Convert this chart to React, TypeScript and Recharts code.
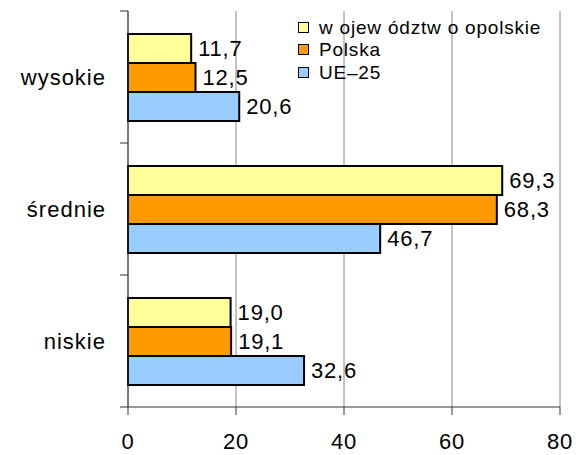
import React from 'react';
import { BarChart, Bar, XAxis, YAxis, CartesianGrid, LabelList } from 'recharts';

const categories = ['wysokie', 'średnie', 'niskie'];
const opolskie = [11.7, 69.3, 19.0];
const polska = [12.5, 68.3, 19.1];
const ue25 = [20.6, 46.7, 32.6];
const xTicks = [0, 20, 40, 60, 80];

const series = [
  { key: 'opolskie', name: 'w ojew ództw o opolskie', color: '#FFFF99' },
  { key: 'polska', name: 'Polska', color: '#FF9900' },
  { key: 'ue', name: 'UE–25', color: '#99CCFF' },
];

const data = categories.map((c, i) => ({
  name: c,
  opolskie: opolskie[i],
  polska: polska[i],
  ue: ue25[i],
}));

const FONT = '"Liberation Sans", Arial, sans-serif';

const fmt = (v: any) => Number(v).toFixed(1).replace('.', ',');

function CategoryTick(props: any) {
  const { x, y, payload, index, visibleTicksCount } = props;
  const half = payload && payload.offset ? payload.offset : 66;
  const last = index === (visibleTicksCount ?? categories.length) - 1;
  return (
    <g>
      <line x1={x - 8} x2={x} y1={y - half} y2={y - half} stroke="#333" />
      {last && <line x1={x - 8} x2={x} y1={y + half} y2={y + half} stroke="#333" />}
      <text
        x={x - 22}
        y={y}
        dy="0.36em"
        textAnchor="end"
        fontSize={22}
        letterSpacing={1}
        fontFamily={FONT}
        fill="#000"
      >
        {payload.value}
      </text>
    </g>
  );
}

// legenda rysowana jako zwykly div nad wykresem
function LegendBox() {
  return (
    <div
      style={{
        position: 'absolute',
        top: 16,
        left: 298,
        fontFamily: FONT,
        fontSize: 19,
        letterSpacing: 0.8,
        color: '#000',
        lineHeight: 1,
      }}
    >
      {series.map((s) => (
        <div key={s.key} style={{ display: 'flex', alignItems: 'center', height: 22.5 }}>
          <span
            style={{
              display: 'inline-block',
              width: 9,
              height: 9,
              background: s.color,
              border: '1.5px solid #000',
              marginRight: 10,
            }}
          />
          <span>{s.name}</span>
        </div>
      ))}
    </div>
  );
}

export default function App() {
  return (
    <div style={{ position: 'absolute', left: 0, top: 0, width: 583, height: 455, background: '#fff' }}>
      <BarChart
        width={583}
        height={455}
        data={data}
        layout="vertical"
        margin={{ top: 11, right: 23, bottom: 0, left: 0 }}
        barSize={29}
        barGap={0}
      >
        <CartesianGrid horizontal={false} vertical stroke="#888" />
        <XAxis
          type="number"
          domain={[0, 80]}
          ticks={xTicks}
          interval={0}
          height={48}
          tickSize={8}
          tickMargin={18}
          axisLine={{ stroke: '#333' }}
          tickLine={{ stroke: '#333' }}
          tick={{ fontSize: 22, fill: '#000', fontFamily: FONT, letterSpacing: 0.8 }}
        />
        <YAxis
          type="category"
          dataKey="name"
          width={128}
          tickSize={0}
          tickMargin={0}
          tickLine={false}
          axisLine={{ stroke: '#333' }}
          tick={<CategoryTick />}
        />
        {series.map((s) => (
          <Bar
            key={s.key}
            dataKey={s.key}
            name={s.name}
            fill={s.color}
            stroke="#000"
            strokeWidth={2}
            isAnimationActive={false}
          >
            <LabelList
              dataKey={s.key}
              position="right"
              offset={7}
              formatter={fmt}
              fontSize={22}
              fill="#000"
              fontFamily={FONT}
              letterSpacing={0.8}
            />
          </Bar>
        ))}
      </BarChart>
      <LegendBox />
    </div>
  );
}
